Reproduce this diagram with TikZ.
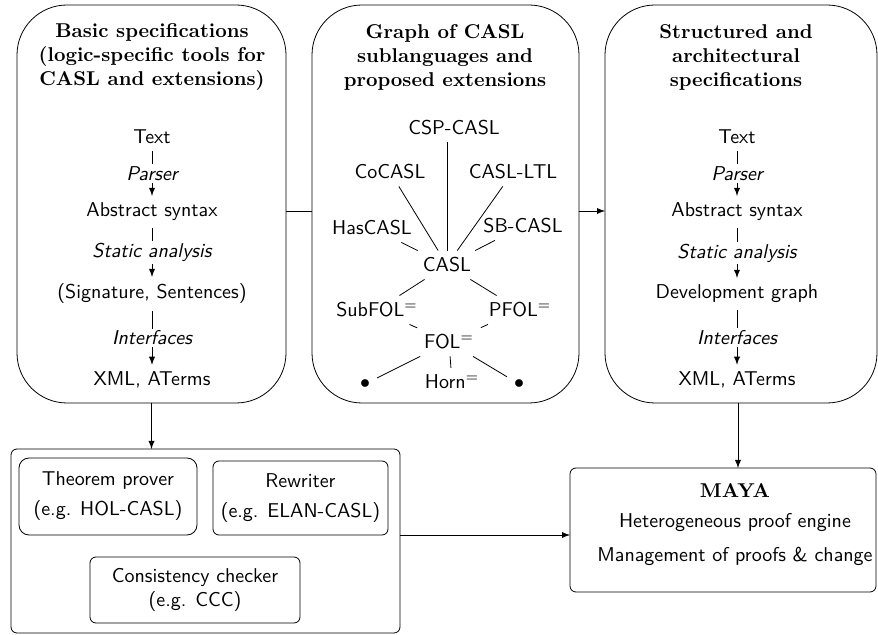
\documentclass[tikz,border=0pt]{standalone}
\usepackage{tikz}
\begin{document}
\begin{tikzpicture}[x=0.5pt,y=-0.5pt,>=latex,font=\sffamily,
    bigbox/.style ={draw, rounded corners=25pt, minimum height=199pt, inner sep=0pt, outer sep=0pt},
    toolbox/.style ={draw, rounded corners=3pt, inner sep=0pt, outer sep=0pt, align=center},
    heading/.style ={align=center, font=\rmfamily\bfseries},
    phase/.style ={fill=white, inner sep=1pt, font=\sffamily\itshape}]
   \useasboundingbox (0,0) rectangle (878,635);

   \node[bigbox, minimum width=134.5pt] (basic)  at (151.5,204) {};
   \node[bigbox, minimum width=133.5pt] (graph)  at (445.5,204) {};
   \node[bigbox, minimum width=136pt]   (struct) at (741,204) {};

   \node[heading] (basichead)  at (152,57) {Basic specifications\\(logic-specific tools for\\CASL and extensions)};
   \node[heading] (graphhead)  at (445,57) {Graph of CASL\\sublanguages and\\proposed extensions};
   \node[heading] (structhead) at (736,57) {Structured and\\architectural\\specifications};

   \node (text1) at (152,137) {Text};
   \node (abs1)  at (152,212) {Abstract syntax};
   \node (sig1)  at (152,294) {(Signature, Sentences)};
   \node (xml1)  at (152,380) {XML, ATerms};

   \draw[->] (text1) to node[phase] {Parser} (abs1);
   \draw[->] (abs1) to node[phase] {Static analysis} (sig1);
   \draw[->] (sig1) to node[phase] {Interfaces} (xml1);

   \node (text2) at (737,137) {Text};
   \node (abs2)  at (737,212) {Abstract syntax};
   \node (dev2)  at (737,294) {Development graph};
   \node (xml2)  at (737,380) {XML, ATerms};

   \draw[->] (text2) to node[phase] {Parser} (abs2);
   \draw[->] (abs2) to node[phase] {Static analysis} (dev2);
   \draw[->] (dev2) to node[phase] {Interfaces} (xml2);

   \node (csp)    at (454,128) {CSP-CASL};
   \node (cocasl) at (390,172) {CoCASL};
   \node (ltl)    at (513,172) {CASL-LTL};
   \node (has)    at (372,228) {HasCASL};
   \node (sb)     at (523,226) {SB-CASL};
   \node (casl)   at (447,265) {CASL};
   \node (subfol) at (377,310) {SubFOL$^=$};
   \node (pfol)   at (520,310) {PFOL$^=$};
   \node (fol)    at (449,342) {FOL$^=$};
   \node (dotl)   at (365,384) {$\bullet$};
   \node (horn)   at (452,382) {Horn$^=$};
   \node (dotr)   at (519,384) {$\bullet$};

   \draw (casl) to (casl |- csp.south);
   \draw (casl) to (cocasl);
   \draw (casl) to (ltl);
   \draw (casl) to (has);
   \draw (casl) to (sb);
   \draw (casl) to (subfol);
   \draw (casl) to (pfol);
   \draw (subfol) to (fol);
   \draw (pfol) to (fol);
   \draw (fol) to (dotl);
   \draw (fol) to (horn);
   \draw (fol) to (dotr);

   \node[toolbox, minimum width=194.5pt, minimum height=92pt] (tools) at (205.5,541) {};
   \node[toolbox, rounded corners=5pt, minimum width=89pt, minimum height=38.5pt] (prover) at (108,496.5) {Theorem prover\\[3pt](e.g. HOL-CASL)};
   \node[toolbox, minimum width=87.5pt, minimum height=37pt] (rewriter) at (300.5,498) {Rewriter\\[3pt](e.g. ELAN-CASL)};
   \node[toolbox, minimum width=105pt, minimum height=33pt] (checker) at (195,590) {Consistency checker\\(e.g. CCC)};

   \node[toolbox, minimum width=153pt, minimum height=62pt] (maya) at (723,530) {};
   \node[align=center] (mayatext) at (735,525) {{\rmfamily\bfseries MAYA}\\[3pt]Heterogeneous proof engine\\[5pt]Management of proofs \& change};

   \draw ([yshift=-3.5pt]basic.east) to ([yshift=-3.5pt]graph.west);
   \draw[->] ([yshift=-3.5pt]graph.east) to ([yshift=-3.5pt]struct.west);
   \draw[->] (basic.south) to (basic.south |- tools.north);
   \draw[->] ([xshift=-1.5pt]struct.south) to ([xshift=-1.5pt]struct.south |- maya.north);
   \draw[->] ([yshift=3pt]tools.east) to ([yshift=3pt]tools.east -| maya.west);
 \end{tikzpicture}
\end{document}
